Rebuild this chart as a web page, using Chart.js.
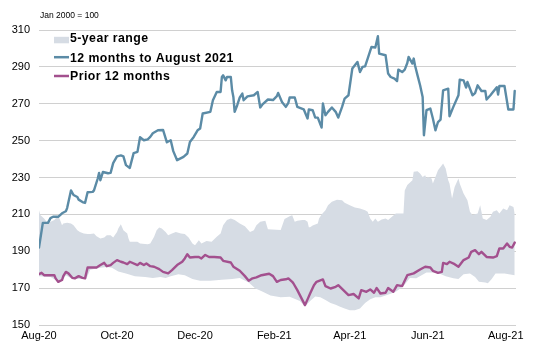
<!DOCTYPE html>
<html>
<head>
<meta charset="utf-8">
<script src="https://cdn.jsdelivr.net/npm/chart.js@4"></script>
<style>
  html, body { margin: 0; padding: 0; background: #fff; }
  canvas { display: block; }
</style>
</head>
<body>
<canvas id="chart" width="533" height="348"></canvas>
<script>
// x values are days since 1 Aug 2020
const START = "2020-08-01";
const tickDates = ["2020-08-01", "2020-10-01", "2020-12-01", "2021-02-01", "2021-04-01", "2021-06-01", "2021-08-01"];
const tickLabels = ["Aug-20", "Oct-20", "Dec-20", "Feb-21", "Apr-21", "Jun-21", "Aug-21"];
const legendLabels = ["5-year range", "12 months to August 2021", "Prior 12 months"];

// 12 months to August 2021
const currentDays = [0,3,7,9,11,15,18,21,22,25,27,30,31,34,36,38,42,43,46,47,48,50,54,56,58,61,64,66,68,71,74,77,79,82,85,87,89,93,97,100,103,105,108,113,116,118,121,124,126,128,134,136,139,142,143,144,146,147,150,151,152,153,155,157,159,160,163,168,171,173,175,179,183,186,187,190,193,195,196,200,202,207,210,211,214,216,218,221,222,224,226,229,232,234,237,239,242,245,247,249,251,253,255,257,260,263,265,266,271,273,275,278,280,281,284,286,288,289,292,293,294,296,298,300,301,303,306,308,310,312,314,316,320,321,324,328,329,332,334,335,339,341,343,346,349,350,353,355,358,359,360,364,367,371,372];
const currentValues = [192,205.4,205.4,208,208.7,208.7,210.6,211.7,213.4,223,220.5,219.4,218,216.7,216.2,222,222.2,223,229.6,232.5,228.5,233,232.3,232.5,237.8,241.5,242,241.5,236.7,235.2,243.2,243.9,251.8,250.2,250.7,252,254,255.6,255.8,249.1,250.2,244.3,239.4,241.2,243,249.3,252,255.6,256.6,264.7,265.6,271.9,276.4,276.4,284.5,285.4,282.7,284.5,284.5,277.3,273.7,265.6,269.2,273.4,275.5,271.9,274,274.6,276.4,268,269.8,272.3,272,274.1,275.9,271,268.3,270.5,273.4,273.4,268.3,267,262,266.9,266.5,262.5,262.5,257.1,270.1,263.8,265.6,268,265.6,262.5,268.3,272.8,274.6,289.1,290.9,292.7,287.2,290,290.3,294.5,300.8,300.5,306.6,297.2,296.3,286.4,284.5,283.6,282.3,288.5,287.2,288.5,292.1,295.4,291.8,294.5,290.9,285.4,280,273.7,252.9,266.5,267.4,262,255.6,260.1,261.4,277.3,278.2,263.2,268.3,274.6,283.1,282.7,278.8,281.8,274.6,275.8,280,276.9,276.9,272.3,274.6,276.4,279,275,279.6,279.6,266.9,266.9,277];

// Prior 12 months
const priorDays = [0,2,4,12,13,15,18,19,21,23,26,28,31,34,36,38,45,48,51,53,56,58,61,64,66,69,71,77,79,82,84,87,90,94,97,101,104,108,112,114,116,118,122,125,127,130,133,137,142,144,150,152,157,161,164,167,170,174,180,183,186,189,193,195,198,199,202,204,206,208,210,212,215,217,222,224,228,232,234,238,242,246,250,252,256,259,262,264,267,271,273,277,280,284,288,293,298,302,306,308,312,315,316,319,321,325,328,332,336,338,341,344,346,350,355,358,360,363,366,368,370,372];
const priorValues = [177.6,178.3,177,177,175.3,173.4,174.4,176.5,178.8,178,175.6,175.3,176.5,175.6,175.3,181.2,181.2,182.5,183.7,181.9,182.5,183.7,185.2,184.3,183.9,183,184.3,182.5,183.7,182.5,183.4,181.9,181.6,180.3,178.8,178,179.8,182.5,184.3,186.1,188.4,186.6,186.9,186.9,186.1,188,186.9,186.9,186.6,184.8,183.9,181.6,179.4,176.5,174,175.3,175.8,177,177.8,176.5,173.4,174.4,174.8,175.3,173.4,172.5,168.9,166.2,163.5,160.8,163.9,167.1,171.6,173.4,174.7,171.1,169.8,170.7,171.6,168.9,166.2,166.8,164.4,168.9,168,169.3,167.5,170.1,167.1,167.5,170.1,168,171.6,171.1,177,178,180.1,181.6,181.2,179.4,178.3,178.8,183.7,183,184.3,183,181.6,185.2,186.6,189.7,190.6,188.4,189.7,186.9,186.6,187.3,191.5,191.5,194.2,192.4,192,194.7];

// 5-year range, upper edge
const rangeHighDays = [0,1,4,6,9,12,14,16,17,18,19,22,25,27,30,32,35,38,40,43,45,48,51,53,56,58,61,62,64,66,69,70,71,77,79,85,87,90,92,94,96,99,101,104,107,111,114,117,120,122,125,127,131,135,139,142,144,147,150,153,157,161,165,168,170,173,177,179,189,192,196,198,200,202,206,208,210,211,212,214,218,219,221,224,226,229,233,237,239,243,247,251,255,257,259,261,263,265,268,271,273,276,279,285,286,288,292,293,296,298,300,302,303,304,307,308,310,312,315,316,318,320,321,323,325,328,329,332,335,337,339,343,345,346,347,350,353,355,358,360,363,366,368,371,372];
const rangeHighValues = [212.3,209.6,207.8,206,206,206.9,208.6,207.8,206,204.1,205,205.4,205,204.1,201.4,200.5,199.6,199.3,199.3,199.6,198.2,196.9,197.5,198.7,198.7,197.5,200.5,202.3,204.7,201.4,199.6,196.9,195.1,195.1,194.2,193.8,194.2,197.8,201.4,202.9,202.4,200.5,198.7,199.6,200.5,199.6,199.3,197.5,194.2,193.3,196,194.2,195.6,195.1,197.8,199.6,204.1,206.9,207.8,206.9,205,203.6,200.5,201.4,204.1,206,206.5,202,201.5,207.5,209,209.5,206,206.5,206.9,206.9,206,203,203,204,205,207.8,210,212.3,215,216.8,218,217.7,216.3,215,213.7,213.2,212.3,211.4,207.8,206,207.8,206,207.2,207.8,206.9,208.7,210.5,210.5,223,226,228.5,233.1,233.4,232.2,230.3,231.2,229.4,230.3,229.4,226.7,230.3,234,236.7,237.6,234.9,228.5,226.7,218.6,224.9,229.4,226.7,221.3,217.7,211.4,209.6,210.5,215,211.4,207.8,206.9,208.7,211.4,212.3,210.5,213.2,212.3,215,214,210.5];

// 5-year range, lower edge
const rangeLowDays = [0,9,14,16,18,21,26,32,37,40,48,53,57,62,68,75,83,89,95,99,103,109,114,120,126,134,143,151,157,164,169,175,181,189,196,204,208,212,216,220,224,228,232,235,239,243,247,251,255,259,263,267,271,275,279,282,286,290,295,303,310,313,318,324,328,332,337,341,344,349,351,354,357,364,372];
const rangeLowValues = [176.5,176,174,173,174,177,175,175,175,180,181,181.5,181,179,178,176.5,176,175.5,176,175.5,176.5,177.5,177,175,174,174,174.5,175,175.5,173,170,168,166,165,165.3,163,160,163,165.5,165,163.5,162,161,160,159,158,158,159,162,164,165,165,166,167,168,169.5,172,175.5,175.3,178.5,178.5,178,176.5,175.3,175,177.5,178,176,173.5,173,172.6,175,178,178,177];

const BLUE = "#5b8ba6";
const PURPLE = "#a3508e";
const BAND = "#d6dce4";
const FONT = "'Liberation Sans', Arial, sans-serif";

const dayOf = (iso) => Math.round((Date.parse(iso) - Date.parse(START)) / 86400000);
const tickDays = tickDates.map(dayOf);
const points = (xs, ys) => xs.map((x, i) => ({ x: x, y: ys[i] }));

// unit note and in-plot legend, as in the original
const notes = {
  id: "notes",
  afterDraw(chart) {
    const ctx = chart.ctx;
    const area = chart.chartArea;
    ctx.save();
    ctx.fillStyle = "#000";
    ctx.font = "8.5px " + FONT;
    ctx.textBaseline = "middle";
    ctx.textAlign = "left";
    ctx.fillText("Jan 2000 = 100", area.left + 1, 16);

    const x0 = area.left + 15;
    const rows = [42.3, 61.5, 80.3];
    ctx.font = "bold 12.3px " + FONT;
    ctx.letterSpacing = "0.45px";
    ctx.textBaseline = "alphabetic";
    legendLabels.forEach((label, i) => {
      const base = rows[i];
      if (i === 0) {
        ctx.fillStyle = BAND;
        ctx.fillRect(x0, base - 5.5, 15, 6.5);
      } else {
        ctx.strokeStyle = i === 1 ? BLUE : PURPLE;
        ctx.lineWidth = 2.5;
        ctx.beginPath();
        ctx.moveTo(x0, base - 4.3);
        ctx.lineTo(x0 + 15, base - 4.3);
        ctx.stroke();
      }
      ctx.fillStyle = "#000";
      ctx.fillText(label, x0 + 16, base);
    });
    ctx.restore();
  },
};

const lineStyle = {
  pointRadius: 0,
  pointHoverRadius: 0,
  tension: 0,
  borderWidth: 2.4,
  borderJoinStyle: "round",
  borderCapStyle: "round",
  fill: false,
};

new Chart(document.getElementById("chart"), {
  type: "line",
  data: {
    datasets: [
      { label: legendLabels[1], data: points(currentDays, currentValues), borderColor: BLUE, ...lineStyle },
      { label: legendLabels[2], data: points(priorDays, priorValues), borderColor: PURPLE, ...lineStyle },
      {
        label: legendLabels[0],
        data: points(rangeHighDays, rangeHighValues),
        borderWidth: 0,
        pointRadius: 0,
        borderColor: BAND,
        backgroundColor: BAND,
        fill: "+1",
        tension: 0,
      },
      {
        label: "5-year low",
        data: points(rangeLowDays, rangeLowValues),
        borderWidth: 0,
        pointRadius: 0,
        borderColor: BAND,
        backgroundColor: BAND,
        fill: false,
        tension: 0,
      },
    ],
  },
  options: {
    responsive: false,
    animation: false,
    events: [],
    layout: { padding: { top: 30, right: 17, bottom: 0, left: 0 } },
    plugins: {
      legend: { display: false },
      tooltip: { enabled: false },
    },
    scales: {
      x: {
        type: "linear",
        min: 0,
        max: 373,
        afterBuildTicks: (scale) => {
          scale.ticks = tickDays.map((d) => ({ value: d }));
        },
        afterFit: (scale) => {
          scale.height = 23;
        },
        ticks: {
          autoSkip: false,
          maxRotation: 0,
          padding: -4,
          color: "#000",
          font: { family: FONT, size: 11 },
          callback: (value, index) => tickLabels[index],
        },
        grid: { display: false },
        border: { display: false },
      },
      y: {
        min: 150,
        max: 310,
        afterFit: (scale) => {
          scale.width = 39;
        },
        ticks: {
          stepSize: 20,
          padding: 9,
          color: "#000",
          font: { family: FONT, size: 11 },
        },
        grid: { color: "#d0d0d0", lineWidth: 1, drawTicks: false },
        border: { display: false },
      },
    },
  },
  plugins: [notes],
});
</script>
</body>
</html>
